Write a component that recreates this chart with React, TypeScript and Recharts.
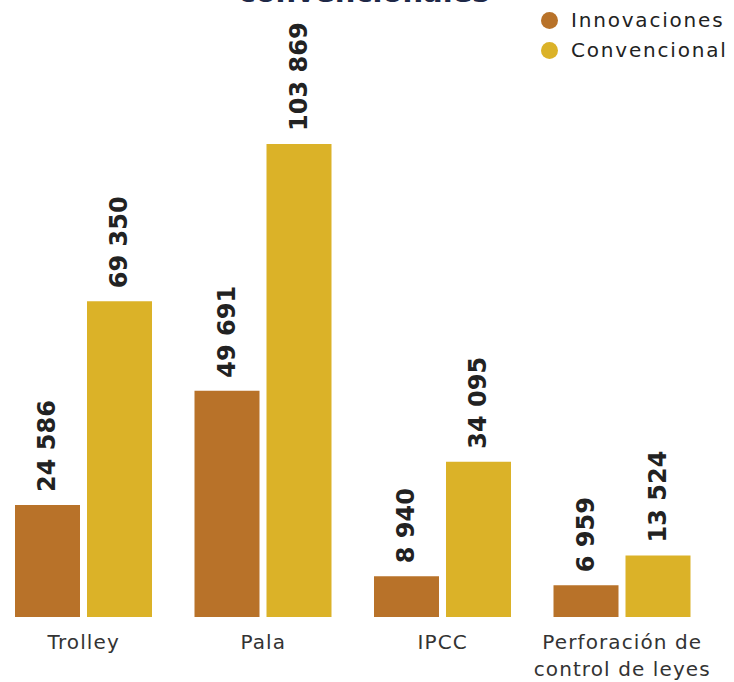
import React from 'react';
import { BarChart, Bar, XAxis, YAxis, LabelList } from 'recharts';

const categories = ['Trolley', 'Pala', 'IPCC', 'Perforación de control de leyes'];
const tickLines = [['Trolley'], ['Pala'], ['IPCC'], ['Perforación de', 'control de leyes']];
const innovaciones = [24586, 49691, 8940, 6959];
const convencional = [69350, 103869, 34095, 13524];
const seriesNames = ['Innovaciones', 'Convencional'];
const seriesColors = ['#B87229', '#DBB228'];

const data = categories.map((name, i) => ({
  name,
  innovaciones: innovaciones[i],
  convencional: convencional[i],
}));

const FONT = '"DejaVu Sans", sans-serif';

const fmt = (v: number) => String(v).replace(/\B(?=(\d{3})+(?!\d))/g, ' ');

const ValueLabel = (props: any) => {
  const { x, y, width, value } = props;
  const cx = x + width / 2;
  const ty = y - 13;
  return (
    <text
      x={cx}
      y={ty}
      transform={`rotate(-90, ${cx}, ${ty})`}
      textAnchor="start"
      dominantBaseline="central"
      fontFamily={FONT}
      fontWeight="bold"
      fontSize={24}
      fill="#222"
    >
      {fmt(value)}
    </text>
  );
};

const CategoryTick = (props: any) => {
  const { x, y, index } = props;
  const lines = tickLines[index] || [];
  return (
    <text
      x={x}
      y={y}
      textAnchor="middle"
      fontFamily={FONT}
      fontSize={20}
      letterSpacing={1.1}
      fill="#333"
    >
      {lines.map((l, i) => (
        <tspan key={i} x={x} dy={i === 0 ? 24 : 27}>
          {l}
        </tspan>
      ))}
    </text>
  );
};

const LegendBox = () => (
  <div
    style={{
      position: 'absolute',
      top: 5,
      left: 541,
      fontFamily: FONT,
      fontSize: 20,
      color: '#222',
      letterSpacing: 1.8,
    }}
  >
    {seriesNames.map((n, i) => (
      <div key={n} style={{ display: 'flex', alignItems: 'center', height: 30 }}>
        <span
          style={{
            display: 'inline-block',
            width: 17,
            height: 17,
            borderRadius: '50%',
            background: seriesColors[i],
            marginRight: 13,
          }}
        />
        {n}
      </div>
    ))}
  </div>
);

export default function App() {
  return (
    <div style={{ position: 'absolute', left: 0, top: 0, width: 734, height: 682, overflow: 'hidden', background: '#fff' }}>
      <div
        style={{
          position: 'absolute',
          left: 0,
          top: -26,
          width: 734,
          textAlign: 'center',
          fontFamily: FONT,
          fontWeight: 'bold',
          fontSize: 29,
          lineHeight: '36px',
          color: '#1E2847',
        }}
      >
        <span style={{ position: 'relative', left: -3 }}>convencionales</span>
      </div>
      <div style={{ position: 'absolute', left: -6, top: 0 }}>
        <BarChart
          width={740}
          height={682}
          data={data}
          margin={{ top: 116, right: 22, left: 0, bottom: 5 }}
          barSize={65}
          barGap={7}
        >
          <XAxis
            dataKey="name"
            axisLine={false}
            tickLine={false}
            height={60}
            interval={0}
            tick={<CategoryTick />}
          />
          <YAxis hide domain={[0, 110000]} />
          <Bar dataKey="innovaciones" name={seriesNames[0]} fill={seriesColors[0]} isAnimationActive={false}>
            <LabelList dataKey="innovaciones" content={<ValueLabel />} />
          </Bar>
          <Bar dataKey="convencional" name={seriesNames[1]} fill={seriesColors[1]} isAnimationActive={false}>
            <LabelList dataKey="convencional" content={<ValueLabel />} />
          </Bar>
        </BarChart>
      </div>
      <LegendBox />
    </div>
  );
}
